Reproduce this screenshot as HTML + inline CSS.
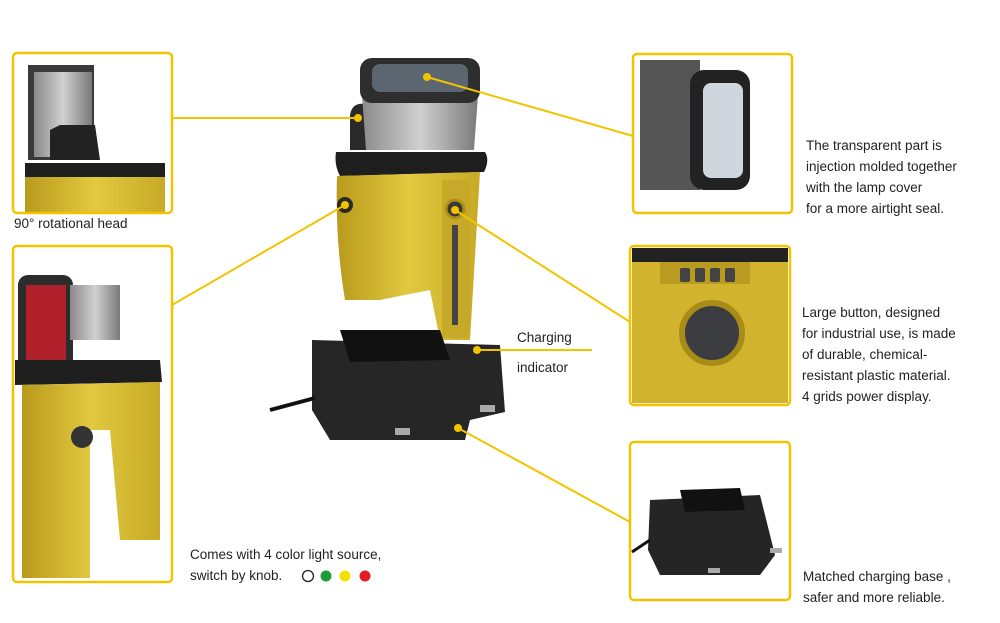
<!DOCTYPE html>
<html><head><meta charset="utf-8"><style>
html,body{margin:0;padding:0;background:#fff;}
body{width:1000px;height:623px;position:relative;overflow:hidden;font-family:"Liberation Sans",sans-serif;}
.t{position:absolute;font-size:13.5px;color:#222;line-height:21px;}
</style></head><body>
<svg width="1000" height="623" style="position:absolute;left:0;top:0">
<defs>
<linearGradient id="y" x1="0" x2="1"><stop offset="0" stop-color="#b99a1c"/><stop offset="0.5" stop-color="#e2c940"/><stop offset="1" stop-color="#c7aa26"/></linearGradient>
<linearGradient id="g" x1="0" x2="1"><stop offset="0" stop-color="#8a8a8a"/><stop offset="0.5" stop-color="#d0d0d0"/><stop offset="1" stop-color="#7a7a7a"/></linearGradient>
</defs>
<!-- center product -->
<path d="M350 115 Q352 102 365 104 L372 150 L350 150Z" fill="#2a2a2a"/>
<path d="M362 95 L478 95 L474 150 L366 150Z" fill="url(#g)"/>
<rect x="360" y="58" width="120" height="45" rx="12" fill="#2e2e2e"/>
<rect x="372" y="64" width="96" height="28" rx="8" fill="#5b6670"/>
<path d="M336 152 L485 152 Q490 160 484 172 L340 176 Q334 165 336 152Z" fill="#1e1e1e"/>
<path d="M337 176 L480 172 L470 340 L440 340 L430 290 L380 300 L345 300 Q335 240 337 176Z" fill="url(#y)"/>
<rect x="442" y="180" width="28" height="158" fill="#c7a92a"/>
<rect x="452" y="225" width="6" height="100" fill="#444"/>
<circle cx="455" cy="209" r="9" fill="#3a3a3a" stroke="#b08f18" stroke-width="3"/>
<circle cx="345" cy="205" r="8" fill="#2a2a2a"/>
<path d="M312 340 L500 345 L505 412 L470 420 L465 440 L330 440 L312 410Z" fill="#262626"/>
<path d="M340 330 L440 330 L450 360 L350 362Z" fill="#111"/>
<path d="M270 410 L315 398" stroke="#111" stroke-width="4"/>
<rect x="395" y="428" width="15" height="7" fill="#aaa"/><rect x="480" y="405" width="15" height="7" fill="#aaa"/>
<!-- box1 image -->
<rect x="28" y="65" width="66" height="95" fill="#3a3a3a"/><rect x="34" y="72" width="58" height="85" fill="url(#g)"/>
<path d="M50 130 L60 125 L95 125 L100 160 L50 160Z" fill="#222"/>
<rect x="25" y="163" width="140" height="14" fill="#1e1e1e"/>
<rect x="25" y="177" width="140" height="35" fill="url(#y)"/>
<!-- box2 image -->
<rect x="18" y="275" width="55" height="95" rx="10" fill="#2c2c2c"/><rect x="26" y="285" width="40" height="75" fill="#b0202a"/>
<path d="M70 285 L120 285 L120 340 L70 340Z" fill="url(#g)"/>
<path d="M15 360 L160 360 L162 382 L15 385Z" fill="#1e1e1e"/>
<path d="M22 385 L160 382 L160 540 L120 540 L110 430 L90 430 L90 578 L22 578Z" fill="url(#y)"/>
<circle cx="82" cy="437" r="11" fill="#333"/>
<!-- box3 -->
<rect x="640" y="60" width="60" height="130" fill="#555"/>
<rect x="690" y="70" width="60" height="120" rx="14" fill="#222"/>
<rect x="703" y="83" width="40" height="95" rx="8" fill="#cfd6de"/>
<!-- box4 -->
<rect x="632" y="248" width="156" height="155" fill="#d2b32e"/>
<rect x="660" y="262" width="90" height="22" fill="#b89b20"/>
<rect x="680" y="268" width="10" height="14" rx="2" fill="#444"/><rect x="695" y="268" width="10" height="14" rx="2" fill="#444"/><rect x="710" y="268" width="10" height="14" rx="2" fill="#444"/><rect x="725" y="268" width="10" height="14" rx="2" fill="#444"/>
<circle cx="712" cy="333" r="30" fill="#3b3d40" stroke="#a98c18" stroke-width="6"/>
<rect x="632" y="248" width="156" height="14" fill="#222"/>
<!-- box5 -->
<path d="M650 500 L760 495 L775 555 L760 575 L660 575 L648 550Z" fill="#252525"/>
<path d="M680 490 L740 488 L745 510 L685 512Z" fill="#111"/>
<rect x="708" y="568" width="12" height="5" fill="#aaa"/><rect x="770" y="548" width="12" height="5" fill="#aaa"/>
<path d="M632 552 L650 540" stroke="#111" stroke-width="3"/>
<!-- boxes -->
<g fill="none" stroke="#f2c400" stroke-width="2.5">
<rect x="13" y="53" width="159" height="160" rx="4"/>
<rect x="13" y="246" width="159" height="336" rx="4"/>
<rect x="633" y="54" width="159" height="159" rx="4"/>
<rect x="630" y="246" width="160" height="159" rx="4"/>
<rect x="630" y="442" width="160" height="158" rx="4"/>
</g>
<!-- connectors -->
<g stroke="#f2c400" stroke-width="2" fill="#f2c400">
<line x1="172" y1="118" x2="358" y2="118"/><circle cx="358" cy="118" r="3"/>
<line x1="633" y1="136" x2="427" y2="77"/><circle cx="427" cy="77" r="3"/>
<line x1="172" y1="305" x2="345" y2="205"/><circle cx="345" cy="205" r="3"/>
<line x1="630" y1="322" x2="455" y2="210"/><circle cx="455" cy="210" r="3"/>
<line x1="477" y1="350" x2="592" y2="350"/><circle cx="477" cy="350" r="3"/>
<line x1="630" y1="522" x2="458" y2="428"/><circle cx="458" cy="428" r="3"/>
</g>
<!-- color dots -->
<circle cx="308" cy="576" r="5.5" fill="#fff" stroke="#222" stroke-width="1.3"/>
<circle cx="326" cy="576" r="5.5" fill="#1d9a3a"/>
<circle cx="345" cy="576" r="5.5" fill="#f2e100"/>
<circle cx="365" cy="576" r="5.5" fill="#e21d26"/>
</svg>
<div class="t" style="left:14px;top:213px">90° rotational head</div>
<div class="t" style="left:806px;top:135px">The transparent part is<br>injection molded together<br>with the lamp cover<br>for a more airtight seal.</div>
<div class="t" style="left:802px;top:302px">Large button, designed<br>for industrial use, is made<br>of durable, chemical-<br>resistant plastic material.<br>4 grids power display.</div>
<div class="t" style="left:517px;top:327px">Charging</div>
<div class="t" style="left:517px;top:357px">indicator</div>
<div class="t" style="left:190px;top:544px">Comes with 4 color light source,<br>switch by knob.</div>
<div class="t" style="left:803px;top:566px">Matched charging base ,<br>safer and more reliable.</div>
</body></html>
